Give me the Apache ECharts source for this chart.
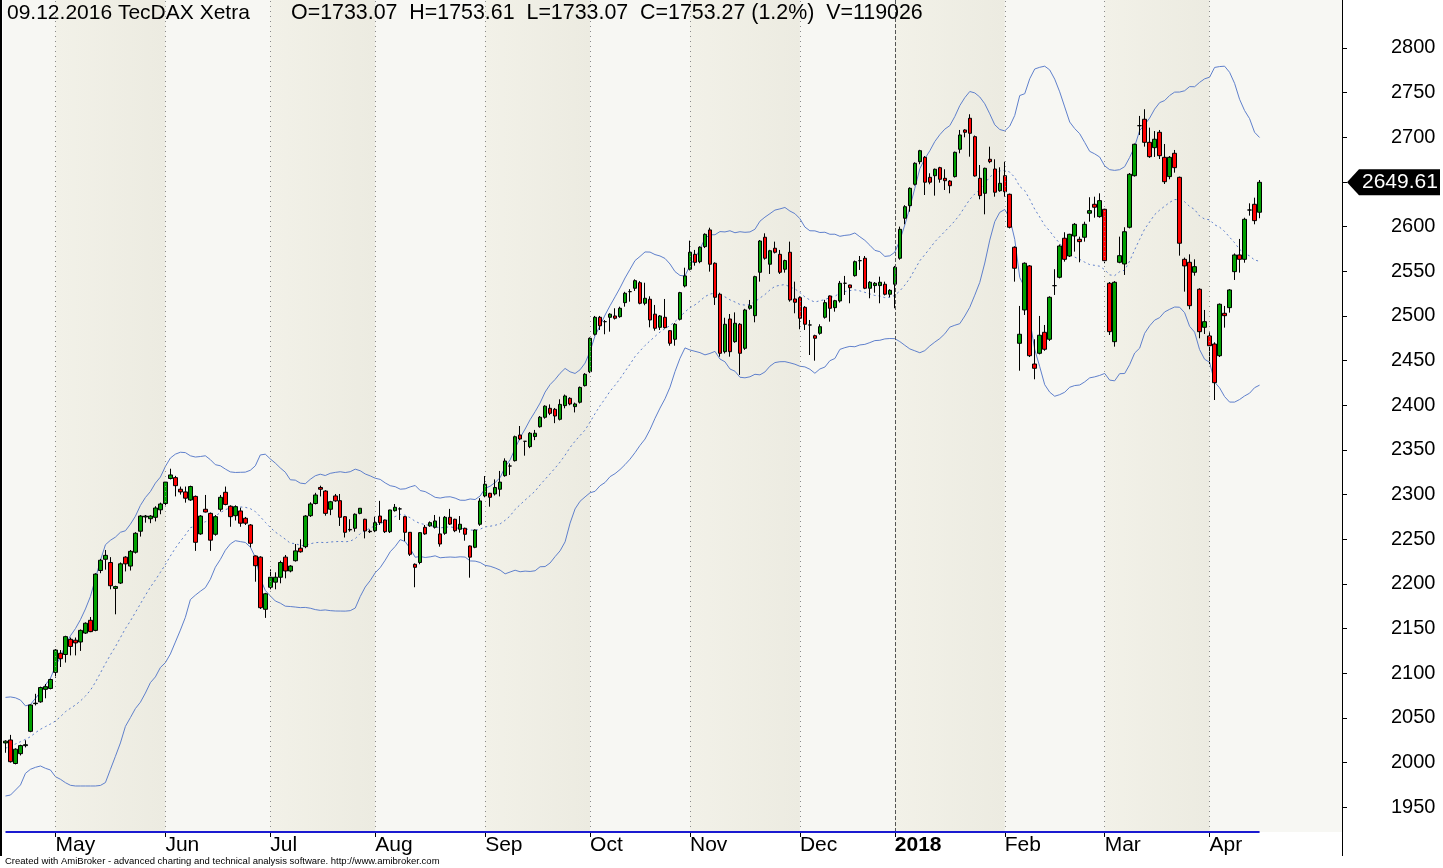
<!DOCTYPE html>
<html><head><meta charset="utf-8">
<script src="https://cdn.jsdelivr.net/npm/echarts@6/dist/echarts.min.js"></script>
<style>html,body{margin:0;padding:0;background:#fff}#c{width:1443px;height:868px}</style>
</head><body><div id="c"></div>
<script>
// ---- data ----
const opens=[2022,2025.3,1999,2010,2019,2035,2066,2068,2082,2083,
2101,2122.4,2121,2138,2137,2135,2145,2159.3,2148,2215,
2227.6,2224,2195,2201,2230,2220,2235.5,2259,2275,2273,
2274.6,2283,2290,2318,2319,2306,2303,2294,2298,2256,
2283.6,2279,2255.6,2283.6,2302.6,2287,2276.4,2281.7,2273.5,2266,
2231.3,2230,2171.6,2196.3,2202,2207.5,2230,2214.5,2226,2240,
2241.7,2276.4,2290,2308,2304,2283.6,2298.5,2293.2,2275.3,2261,
2262.3,2279,2272.4,2259,2259.6,2276,2271.6,2258.5,2282,2284,
2275.3,2257.8,2222,2224,2263.4,2265,2263.4,2256,2256.7,2274.6,
2272.4,2261.2,2262.3,2242.5,2241,2266.8,2298.5,2301.5,2300.7,2306,
2321.2,2332,2338,2366.7,2359.7,2353.7,2365,2376,2386.6,2396.6,
2395.5,2384.3,2399.6,2407.8,2398.5,2403.4,2422,2437.6,2479.5,2498.5,
2493.6,2498.5,2500,2499.2,2514.9,2527.2,2531,2537.2,2514.2,2518.7,
2502,2487.3,2498.5,2483.5,2473.9,2496.3,2533.6,2552.3,2569,2560.8,
2577.6,2596.3,2559,2524.3,2460,2496.6,2471.2,2490.7,2463.8,2508.6,
2500.3,2548.9,2588.1,2557.9,2575.8,2569,2552.3,2571.3,2519,2520.5,
2509.7,2489.9,2477.9,2480.6,2498.5,2522.4,2509.3,2516.8,2536.6,2534.7,
2545.1,2561.9,2564.6,2531,2534,2534,2535.5,2524.3,2535.5,2564.6,
2609.4,2623.5,2647.4,2672.7,2677.6,2655.2,2657,2666,2654.1,2651,
2656,2686.6,2708.2,2721.3,2700.7,2654.1,2637.3,2675.4,2664.5,2640.2,
2657,2636.2,2576.9,2469.4,2506.7,2556,2446.2,2458.2,2481.7,2473.9,
2533.9,2543.3,2587,2567.1,2589.5,2585.8,2588.1,2615,2625,2611.2,
2619.4,2536.6,2471.2,2560.1,2558.2,2599.3,2657,2713,2720.2,2694.4,
2688.4,2705.6,2677.6,2656,2682.1,2655.2,2563.4,2560.1,2548.9,2529.9,
2487.3,2477.6,2468.6,2455.5,2503,2509.3,2549.6,2568.3,2563.4,2618.6,
2625,2616.1];
const closes=[2024,2001,2015,2019,2020,2064.5,2066.5,2084,2085,2093,
2126,2116.3,2141,2130,2134,2148,2156,2146.6,2211,2226.5,
2232,2198,2197,2222.5,2222.5,2236.5,2256.7,2276,2276,2276,
2285,2289.5,2314,2322,2310,2303,2296,2309,2246.6,2276,
2280.5,2249,2275.3,2297,2289,2275.3,2286.5,2268,2268,2245.5,
2220.4,2173.4,2189,2207.5,2207.5,2224,2214.5,2220,2237,2236,
2276,2289.5,2299.6,2306,2279,2292,2293,2274.6,2257.8,2260.5,
2278,2284.7,2259.3,2258.5,2268.6,2268.6,2258.5,2282.8,2285.8,2284,
2257.8,2233.2,2218.6,2257.4,2256,2268.6,2270.5,2244.7,2274.6,2267,
2259.6,2266.8,2255.6,2230,2260.4,2292.9,2311.6,2297,2308,2314,
2337.6,2332,2364.8,2362.3,2359.7,2368.7,2368.7,2386.6,2399,2391,
2388,2401,2410.4,2401.5,2401.5,2420,2434.7,2475,2498.5,2489,
2493.6,2502,2497.4,2508.6,2525.4,2527.2,2539.5,2514.2,2519.8,2495.5,
2486.2,2500,2486.9,2469.4,2490.7,2526.1,2544.8,2571.3,2560,2576.9,
2591.4,2557.9,2520.9,2458.2,2490.7,2460,2491.8,2458.2,2506.7,2511.5,
2544,2583.9,2564.6,2573,2571.3,2548.9,2562,2517.9,2515.3,2497.4,
2490.7,2489.9,2475,2488,2514.9,2508.6,2517.1,2536.6,2536.6,2531.6,
2560.8,2561.9,2531,2537.7,2536.6,2537.7,2524.3,2528.7,2554.5,2597,
2622.3,2642.9,2670.9,2685,2649.7,2649.7,2664.2,2653,2651.4,2645.8,
2683.2,2702.6,2705.6,2704.5,2656.7,2634.7,2665.3,2672.7,2638.5,2648.5,
2639.1,2599.3,2553.4,2479.5,2559,2455.5,2441.4,2478.4,2462.7,2520.9,
2533.9,2578.3,2563.4,2591.4,2602.6,2583.2,2602.6,2617.9,2621.7,2629.1,
2561.9,2482.4,2537.7,2567.5,2594.3,2658.6,2692.2,2713,2694.4,2678.3,
2697.8,2679.4,2650.3,2677.6,2666,2581.4,2556,2511.5,2555.2,2482.4,
2493.6,2466.7,2425.3,2513.1,2500.3,2529.1,2568.3,2563.4,2608.2,2618.6,
2606.7,2649.61];
const highs=[2025,2031,2016,2020,2025,2065,2077,2085,2088,2094,
2127,2126,2142,2140,2140,2149,2157,2163,2212,2228,
2238,2230,2198,2224,2231,2238,2258,2277,2277.2,2277,
2287,2291,2315,2329,2321,2309,2309,2310,2299,2277,
2299.6,2280,2277,2299.6,2309,2288,2288,2285.4,2275,2267,
2232,2231,2190,2216.4,2213,2226,2232.4,2221,2244.7,2250,
2277,2291.4,2302,2310,2305,2293,2300.7,2300.7,2276,2272.4,
2279,2285,2273,2261,2275.3,2293,2272,2283,2289.5,2285.8,
2276,2258,2223,2258,2266,2270,2277.2,2275.3,2276,2284,
2273,2276,2263,2243,2261,2296,2320.8,2302,2317,2326.5,
2340.6,2335,2366,2376.8,2360,2370,2372.4,2388,2400,2401,
2397,2406.7,2412,2409,2403,2421,2436,2476,2500,2500,
2495.5,2503,2508.6,2510.4,2527,2530,2541,2539,2537.2,2522,
2512.3,2501,2519,2484,2492,2527,2554,2584.3,2573.9,2578,
2592.5,2598.8,2560,2526,2498,2502.2,2504,2492,2508,2517.9,
2545,2585,2592.5,2574,2583.2,2573.9,2563,2583.2,2538.4,2522,
2511,2495.5,2479,2490.7,2518,2523,2518,2539.2,2544.8,2535,
2562,2567.1,2567.1,2539,2538,2544,2538.4,2530,2556,2600,
2624,2644,2672,2686,2679,2659.7,2665,2667,2664.2,2652,
2684,2708.2,2709,2725.8,2702,2669,2666,2689.5,2675.4,2666.4,
2672.7,2637,2578,2511.2,2560,2557,2473.9,2500,2489.9,2522,
2552.3,2580,2593.7,2592,2604,2588.8,2605.5,2632.9,2633.5,2637.3,
2620,2538,2539,2588.8,2599.3,2660,2693,2723.9,2731.4,2710.8,
2707,2708.2,2692.5,2679,2685.8,2656,2565.3,2569,2563.4,2531,
2506.7,2481.7,2470.5,2514,2511.2,2530,2570,2586.2,2610,2626.1,
2632.4,2652.2];
const lows=[2011,2000,1998,2008,2017,2034,2064,2067,2072,2082,
2095,2107,2112,2120,2120,2125,2144,2146,2147,2212,
2216,2194,2166,2200,2214,2215,2234,2253,2268.6,2268,
2270,2278,2288,2317,2298,2300,2291,2293,2237,2255,
2280,2237,2254,2281,2288,2264,2271,2264,2266,2241,
2202.5,2172,2162,2194,2194,2200.7,2206.3,2213,2225,2235,
2240,2275,2289,2298,2276.4,2277,2292,2264.9,2252,2258.5,
2258.5,2278,2251,2257,2258,2266,2257,2257,2281,2271.6,
2248,2231.3,2196.3,2222,2255,2264,2262,2241.7,2255,2266,
2258,2257.4,2248.4,2207,2240,2265,2297,2286.5,2299,2298,
2320,2322,2337,2361,2343.6,2352,2361,2375,2385,2389,
2380,2383,2396.6,2400,2392,2402,2421,2436,2478,2484.3,
2479.5,2482.4,2496,2498,2510.4,2516,2528,2513,2512,2487.3,
2483.5,2484.3,2486,2466.7,2466.7,2495,2532,2551,2556.3,2559,
2576,2549.6,2512.3,2454.4,2458,2454.4,2470,2434,2462,2507,
2492.9,2538.4,2563,2547,2570,2547,2548.5,2516,2503,2485.1,
2484.3,2456.3,2449.9,2479,2497,2493.6,2504.8,2515,2523.5,2514.2,
2544,2551.5,2530,2519.8,2526,2514.2,2523,2520.9,2508.6,2563,
2602.6,2616.7,2646,2669.8,2635.4,2647.4,2634.7,2649.2,2641,2637.3,
2655,2682.1,2700,2678.3,2656,2630.6,2613.8,2671,2633.5,2639,
2633.5,2598,2538.4,2438.7,2501.1,2454,2429.1,2457,2461,2472,
2523.5,2542,2560.8,2566,2572,2560.1,2583.2,2605.5,2610,2610,
2559,2478.7,2465.6,2559,2545.9,2598,2656,2702.6,2689.5,2677,
2678,2675.7,2647.7,2653,2660.4,2567.5,2527.2,2507.5,2545.1,2475,
2479.8,2446.2,2405.9,2454,2486.9,2503.7,2540.3,2548.5,2559.6,2612.3,
2602.6,2609.4];
// Bollinger band values for the first 19 bars (their 20-bar history is off-chart)
const bandHeadUpper=[2073,2073.5,2072.5,2070,2063.5,2065,2072,2079,2087,2094.5,2108,2118,2132,2142,2150,2160,2172,2186,2206];
const bandHeadMid=[2016,2018.6,2020.8,2023.4,2026,2029,2033.5,2037.3,2040.3,2043.2,2046.6,2051.4,2057,2060.8,2064.5,2069,2074.5,2081,2090];
const bandHeadLower=[1962.6,1963.7,1969.3,1975,1988,1992.5,1994.7,1996.2,1993.6,1991.7,1984.2,1981.3,1977.5,1974.6,1973.8,1973.8,1973.8,1973.8,1973.8];
const monthLabels=['May','Jun','Jul','Aug','Sep','Oct','Nov','Dec','2018','Feb','Mar','Apr'];
const monthStarts=[10,32,53,74,96,117,137,159,178,200,220,241];
const yTicks=[1950,2000,2050,2100,2150,2200,2250,2300,2350,2400,2450,2500,2550,2600,2650,2700,2750,2800];
const yLabels=['1950','2000','2050','2100','2150','2200','2250','2300','2350','2400','2450','2500','2550','2600','2650','2700','2750','2800'];
const titleLeft='09.12.2016 TecDAX Xetra';
const titleQuote='O=1733.07  H=1753.61  L=1733.07  C=1753.27 (1.2%)  V=119026';
const footer='Created with AmiBroker - advanced charting and technical analysis software. http://www.amibroker.com';
const BB_N=20, BB_K=2, TOTAL_SLOTS=268, Y_MIN=1922.3, Y_MAX=2853.7;

// ---- build ----
const N=closes.length;
const slots=[]; for(let i=0;i<TOTAL_SLOTS;i++) slots.push(String(i));
const candles=opens.map((o,i)=>[o,closes[i],lows[i],highs[i]]);
const upper=[],mid=[],lower=[];
for(let i=0;i<N;i++){
  if(i<BB_N-1){upper.push(bandHeadUpper[i]);mid.push(bandHeadMid[i]);lower.push(bandHeadLower[i]);continue;}
  const w=closes.slice(i-BB_N+1,i+1);
  const m=w.reduce((a,b)=>a+b,0)/BB_N;
  const sd=Math.sqrt(w.reduce((a,b)=>a+(b-m)*(b-m),0)/BB_N);
  mid.push(+m.toFixed(2)); upper.push(+(m+BB_K*sd).toFixed(2)); lower.push(+(m-BB_K*sd).toFixed(2));
}
const FONT='"Liberation Sans", Arial, sans-serif';
const BAND='#5F80CC';
const darkAreas=[];
for(let k=0;k<monthStarts.length;k+=2){
  const s=monthStarts[k], e=(k+1<monthStarts.length)?monthStarts[k+1]:N-1;
  darkAreas.push([{xAxis:String(s)},{xAxis:String(e)}]);
}
const dividers=monthStarts.map((s,k)=>({xAxis:String(s),
  lineStyle: monthLabels[k]==='2018'?{color:'#555',type:[4,2],width:1}:{color:'#8a8a8a',type:[1,4],width:1}}));
const labelMap={}; monthStarts.forEach((s,k)=>labelMap[s]=monthLabels[k]);
const yLabelMap={}; yTicks.forEach((v,k)=>yLabelMap[v]=yLabels[k]);

const chart=echarts.init(document.getElementById('c'));
chart.setOption({
  animation:false,
  backgroundColor:'#ffffff',
  textStyle:{fontFamily:FONT},
  title:[
    {text:titleLeft,left:2,top:-2,textStyle:{fontFamily:FONT,fontSize:21,fontWeight:'normal',color:'#000'}},
    {text:titleQuote,left:286,top:-2,textStyle:{fontFamily:FONT,fontSize:21.4,fontWeight:'normal',color:'#000'}}
  ],
  grid:{left:3,right:101,top:0,bottom:36,show:true,backgroundColor:'#F7F7F3',borderWidth:0},
  xAxis:{type:'category',data:slots,boundaryGap:true,
    axisLine:{show:false},
    axisTick:{show:true,alignWithLabel:true,length:5,interval:(i)=>labelMap[i]!==undefined,lineStyle:{color:'#000'}},
    axisLabel:{interval:(i)=>labelMap[i]!==undefined,align:'left',margin:3,fontSize:21,color:'#000',fontFamily:FONT,
      formatter:(v,i)=>labelMap[i]==='2018'?'{b|2018}':(labelMap[i]||''),
      rich:{b:{fontWeight:'bold',fontSize:21,fontFamily:FONT,color:'#000'}}},
    splitLine:{show:false}},
  yAxis:{type:'value',position:'right',min:Y_MIN,max:Y_MAX,scale:true,
    axisLine:{show:true,lineStyle:{color:'#000',width:1}},
    axisTick:{show:true,length:5,customValues:yTicks,lineStyle:{color:'#000'}},
    axisLabel:{customValues:yTicks,margin:49,fontSize:20,color:'#000',fontFamily:FONT,
      formatter:(v)=>yLabelMap[v]!==undefined?yLabelMap[v]:String(v)},
    splitLine:{show:false}},
  series:[
    {name:'bg',type:'line',data:[],z:0,silent:true,
      markArea:{silent:true,itemStyle:{color:{type:'linear',x:0,y:0,x2:1,y2:0,colorStops:[{offset:0,color:'#F2F1E8'},{offset:1,color:'#ECEBE1'}]}},data:darkAreas},
      markLine:{silent:true,symbol:'none',label:{show:false},data:dividers}},
    {name:'upper',type:'line',data:upper,showSymbol:false,z:2,lineStyle:{color:BAND,width:1}},
    {name:'mid',type:'line',data:mid,showSymbol:false,z:2,lineStyle:{color:BAND,width:1,type:[2,3]}},
    {name:'lower',type:'line',data:lower,showSymbol:false,z:2,lineStyle:{color:BAND,width:1}},
    {name:'TecDAX',type:'candlestick',data:candles,z:3,barWidth:4,
      itemStyle:{color:'#00A000',color0:'#FF0000',borderColor:'#000',borderColor0:'#000',borderWidth:1},
      markLine:{silent:true,symbol:'none',animation:false,data:[
        [{coord:['0',Y_MIN],lineStyle:{color:'#1a1ad0',width:2,type:'solid'},label:{show:false}},{coord:[String(N-1),Y_MIN]}]
      ]}}
  ]
});
// frame, footer and last-price tag (tag placed through the y axis scale)
const lastY=chart.convertToPixel({yAxisIndex:0},closes[N-1]);
const gx=chart.convertToPixel({xAxisIndex:0},String(TOTAL_SLOTS-1))+2.5;
chart.setOption({graphic:[
  {type:'line',z:100,shape:{x1:1,y1:0,x2:1,y2:856},style:{stroke:'#000',lineWidth:2},silent:true},
  {type:'line',z:100,shape:{x1:1342.5,y1:832,x2:1342.5,y2:856},style:{stroke:'#000',lineWidth:1},silent:true},
  {type:'text',z:100,left:5,top:856,style:{text:footer,fontSize:9.5,fontFamily:FONT,fill:'#000'},silent:true},
  {type:'rect',z:100,shape:{x:gx+30,y:lastY-13,width:70,height:26},style:{fill:'#fff'},silent:true},
  {type:'polygon',z:101,shape:{points:[[gx+5,lastY],[gx+17,lastY-13],[gx+98,lastY-13],[gx+98,lastY+13],[gx+17,lastY+13]]},style:{fill:'#000'},silent:true},
  {type:'text',z:102,x:gx+20,y:lastY,style:{text:closes[N-1].toFixed(2),fontSize:21,fontFamily:FONT,fill:'#fff',textVerticalAlign:'middle'},silent:true}
]});
</script></body></html>
